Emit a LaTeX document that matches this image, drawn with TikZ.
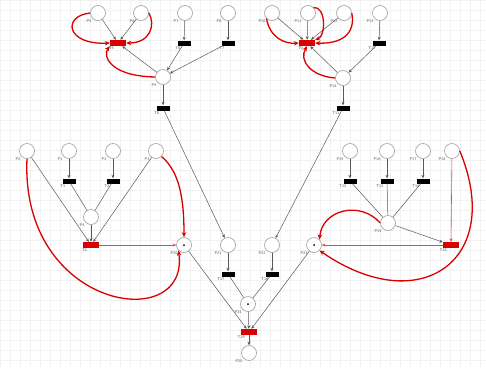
\documentclass[tikz,border=0pt]{standalone}
\usetikzlibrary{arrows.meta}
\begin{document}
\begin{tikzpicture}[x=1pt,y=-1pt,
  place/.style={circle, draw=gray!75, fill=white, minimum size=15pt, inner sep=0pt, line width=0.6pt},
  trans/.style={rectangle, fill=black, minimum width=13pt, minimum height=5pt, inner sep=0pt},
  rtrans/.style={rectangle, fill=red!85!black, minimum width=16pt, minimum height=6pt, inner sep=0pt},
  lbl/.style={font=\fontsize{4}{4}\selectfont\sffamily, text=gray!70!black, inner sep=0.8pt},
  pl/.style={place, label={[lbl]below left:#1}},
  tl/.style={trans, label={[lbl]below left:#1}},
  rtl/.style={rtrans, label={[lbl]below left:#1}},
  arc/.style={draw=gray!70!black, line width=0.5pt, -{Stealth[length=3.5pt,width=3pt]}},
  plain/.style={draw=gray!70!black, line width=0.5pt},
  redarc/.style={draw=red!85!black, line width=1.3pt, -{Stealth[length=5pt,width=4.5pt]}},
  thinred/.style={draw=red!75, line width=0.6pt, -{Stealth[length=3.5pt,width=3pt]}},
  tok/.style={fill=black},
  gridline/.style={draw=gray!10, line width=0.3pt}
]
\useasboundingbox (0,0) rectangle (486,367);
\fill[white] (0,0) rectangle (486,367);
\foreach \gx in {0,10,...,480} { \draw[gridline] (\gx,0) -- (\gx,367); }
\foreach \gy in {0,10,...,360} { \draw[gridline] (0,\gy) -- (486,\gy); }

% top-left group
\node[pl=P5] (P5) at (98,13) {};
\node[pl=P6] (P6) at (141,13) {};
\node[pl=P7] (P7) at (185,13) {};
\node[pl=P8] (P8) at (228,13) {};
\node[rtl=T5] (T5) at (118,43) {};
\node[tl=T6] (T6) at (184,43) {};
\node[tl=T7] (T7) at (228,43) {};
\node[pl=P9] (P9) at (163,77) {};
\node[tl=T8] (T8) at (163,108) {};

% top-right group
\node[pl=P10] (P10) at (272,13) {};
\node[pl=P11] (P11) at (308,13) {};
\node[pl=P12] (P12) at (344,13) {};
\node[pl=P13] (P13) at (380,13) {};
\node[rtl=T9] (T9) at (307,43) {};
\node[tl=T10] (T10) at (379,43) {};
\node[pl=P14] (P14) at (343,78) {};
\node[tl=T11] (T11) at (343,108) {};

% left group
\node[pl=P0] (P0) at (27,151) {};
\node[pl=P1] (P1) at (69,151) {};
\node[pl=P2] (P2) at (113,151) {};
\node[pl=P3] (P3) at (156,151) {};
\node[tl=T1] (T1) at (69,181) {};
\node[tl=T2] (T2) at (113,181) {};
\node[pl=P4] (P4) at (91,217) {};
\node[rtl=T4] (T4) at (91,245) {};

% right group
\node[pl=P15] (P15) at (350,151) {};
\node[pl=P16] (P16) at (387,151) {};
\node[pl=P17] (P17) at (423,151) {};
\node[pl=P18] (P18) at (452,151) {};
\node[tl=T12] (T12) at (350,181) {};
\node[tl=T13] (T13) at (387,181) {};
\node[tl=T14] (T14) at (423,181) {};
\node[pl=P19] (P19) at (388,223) {};
\node[rtl=T15] (T15) at (451,245) {};

% bottom group
\node[pl=P20] (P20) at (184,245) {};
\node[pl=P21] (P21) at (228,245) {};
\node[pl=P22] (P22) at (272,245) {};
\node[pl=P23] (P23) at (314,245) {};
\node[tl=T17] (T17) at (228,274) {};
\node[tl=T18] (T18) at (272,274) {};
\node[pl=P24] (P24) at (248,304) {};
\node[rtl=T19] (T19) at (249,332) {};
\node[pl=P25] (P25) at (249,353) {};

\fill[tok] (P20) circle (1pt);
\fill[tok] (P23) circle (1pt);
\fill[tok] (P24) circle (1pt);

% top-left arcs
\draw[arc] (P5) -- (T5);
\draw[arc] (P6) -- (T5);
\draw[arc] (P9) -- (T5);
\draw[arc] (P7) -- (T6);
\draw[arc] (P8) -- (T7);
\draw[arc] (T6) -- (P9);
\draw[arc] (T7) -- (P9);
\draw[arc] (P9) -- (T8);
\draw[redarc] (P5.west) .. controls (62,16) and (66,45) .. (T5.west);
\draw[redarc] (P6.east) .. controls (156,25) and (150,43) .. (T5.east);
\draw[redarc] (P9.west) .. controls (108,76) and (103,55) .. (T5.south west);

% top-right arcs
\draw[arc] (P10) -- (T9);
\draw[arc] (P11) -- (T9);
\draw[arc] (P12) -- (T9);
\draw[arc] (P14) -- (T9);
\draw[arc] (P13) -- (T10);
\draw[arc] (T10) -- (P14);
\draw[arc] (P14) -- (T11);
\draw[redarc] (P10.south west) .. controls (270,38) and (285,44) .. (T9.west);
\draw[redarc] (P11.north east) .. controls (326,6) and (326,36) .. (T9.north east);
\draw[redarc] (P12.east) .. controls (356,35) and (340,44) .. (T9.east);
\draw[redarc] (P14.west) .. controls (310,76) and (299,60) .. (T9.south);

% left arcs
\draw[arc] (P0) -- (T4);
\draw[arc] (P1) -- (T1);
\draw[arc] (P2) -- (T2);
\draw[plain] (T1) -- (P4);
\draw[plain] (T2) -- (P4);
\draw[arc] (P4) -- (T4);
\draw[arc] (P3) -- (T4);
\draw[thinred] (T4) -- (P20);
\draw[redarc] (P3.south east) .. controls (180,172) and (184,200) .. (P20.north);
\draw[redarc] (P0.south) .. controls (20,310) and (190,335) .. (P20.south west);

% right arcs
\draw[arc] (P15) -- (T12);
\draw[arc] (P16) -- (T13);
\draw[arc] (P17) -- (T14);
\draw[plain] (T12) -- (P19);
\draw[plain] (T13) -- (P19);
\draw[plain] (T14) -- (P19);
\draw[arc] (P19) -- (T15);
\draw[thinred] (P18) -- (T15);
\draw[thinred] (T15) -- (P23);
\draw[redarc] (P19.west) .. controls (360,200) and (322,210) .. (P23.north east);
\draw[redarc] (P18.east) .. controls (505,260) and (420,320) .. (P23.south east);

% bottom arcs
\draw[arc] (T8) -- (P21);
\draw[arc] (T11) -- (P22);
\draw[arc] (P21) -- (T17);
\draw[arc] (P22) -- (T18);
\draw[plain] (T17) -- (P24);
\draw[plain] (T18) -- (P24);
\draw[arc] (P20) -- (T19);
\draw[arc] (P23) -- (T19);
\draw[arc] (P24) -- (T19);
\draw[arc] (T19) -- (P25);
\end{tikzpicture}
\end{document}
